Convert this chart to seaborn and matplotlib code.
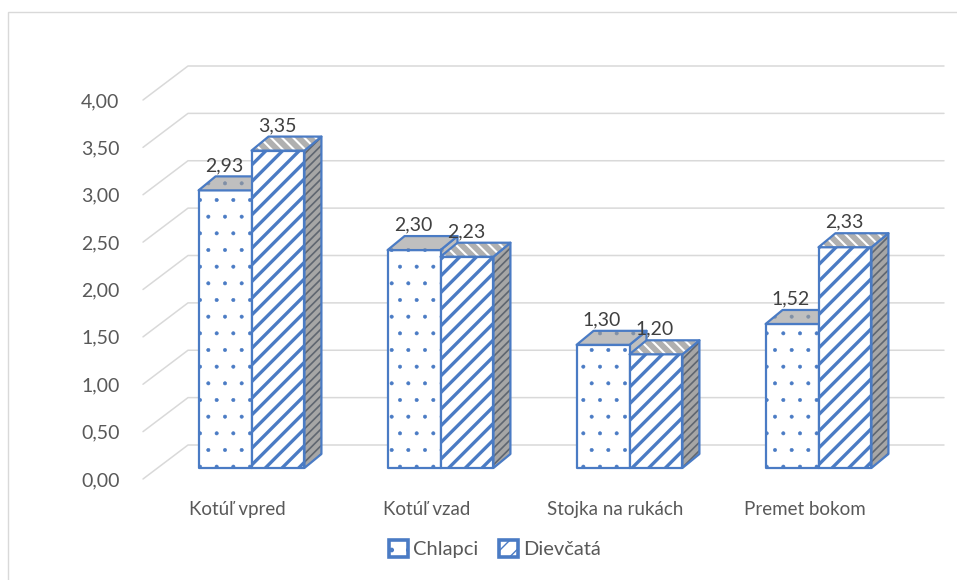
import matplotlib
matplotlib.use("Agg")
import matplotlib.pyplot as plt
import matplotlib.transforms as mtransforms
from matplotlib.patches import Polygon, Rectangle, Patch
import seaborn as sns
import numpy as np
import pandas as pd

# data
categories = ["Kotúľ vpred", "Kotúľ vzad", "Stojka na rukách", "Premet bokom"]
groups = ["Chlapci", "Dievčatá"]
chlapci = [2.93, 2.30, 1.30, 1.52]
dievcata = [3.35, 2.23, 1.20, 2.33]
y_ticks = [0.0, 0.5, 1.0, 1.5, 2.0, 2.5, 3.0, 3.5, 4.0]

df = pd.DataFrame({
    "kategoria": categories * 2,
    "skupina": [groups[0]] * len(chlapci) + [groups[1]] * len(dievcata),
    "hodnota": chlapci + dievcata,
})

sns.set_theme(style="white")
plt.rcParams["font.family"] = ["Lato", "DejaVu Sans"]
plt.rcParams["hatch.linewidth"] = 1.0

BLUE = "#4a7bc4"
TEXT = "#595959"
GRID = "#d9d9d9"
FS = 13.5
FS_NUM = 14

W, H = 957, 580
fig = plt.figure(figsize=(W / 100, H / 100), dpi=100)
ax_l, ax_b, ax_w, ax_h = 143, 101, 756, 379
ax = fig.add_axes([ax_l / W, ax_b / H, ax_w / W, ax_h / H])

sns.barplot(data=df, x="kategoria", y="hodnota", hue="skupina",
            order=categories, hue_order=groups, width=0.56, gap=0,
            errorbar=None, legend=False, palette=["white", "white"], ax=ax)

ax.set_xlim(-0.5, 3.5)
ax.set_ylim(0, 4)
px_x = 4 / ax_w   # data units per pixel
px_y = 4 / ax_h

# fake 3d offsets in pixels (front plane -> bar plane -> bar back -> back wall)
bar_dx, bar_dy = 14, 11
dep_dx, dep_dy = 17 * px_x, 14 * px_y
wall_dx, wall_dy = 45 * px_x, 34 * px_y
bar_tr = mtransforms.offset_copy(ax.transData, fig=fig, x=bar_dx, y=bar_dy, units="dots")

# gridlines: diagonal on the left, horizontal on the back wall
for v in y_ticks:
    ax.plot([-0.5, -0.5 + wall_dx, 3.5 + wall_dx], [v, v + wall_dy, v + wall_dy],
            color=GRID, lw=1.1, zorder=0, clip_on=False)


def face(verts, fc, hatch, hatch_color, hatch_lw, z):
    poly = Polygon(verts, closed=True, facecolor=fc, edgecolor=hatch_color,
                   hatch=hatch, lw=0, transform=bar_tr, zorder=z, clip_on=False)
    if hasattr(poly, "set_hatch_linewidth"):
        poly.set_hatch_linewidth(hatch_lw)
    ax.add_patch(poly)
    ax.add_patch(Polygon(verts, closed=True, fill=False, edgecolor=BLUE, lw=1.6,
                         joinstyle="round", transform=bar_tr, zorder=z + 0.01, clip_on=False))


for p in list(ax.patches):
    x0 = p.get_x()
    w = p.get_width()
    h = p.get_height()
    x1 = x0 + w
    cx = x0 + w / 2
    is_boy = cx < np.round(cx)
    z = 2 if is_boy else 3
    p.remove()
    top = [(x0, h), (x1, h), (x1 + dep_dx, h + dep_dy), (x0 + dep_dx, h + dep_dy)]
    side = [(x1, 0), (x1, h), (x1 + dep_dx, h + dep_dy), (x1 + dep_dx, dep_dy)]
    front = [(x0, 0), (x0, h), (x1, h), (x1, 0)]
    if is_boy:
        face(side, "#bfbfbf", ".", "#8496b0", 0.5, z)
        face(front, "white", ".", BLUE, 0.4, z + 0.1)
        face(top, "#bfbfbf", ".", "#7f8fa6", 0.4, z + 0.2)
    else:
        face(side, "#a6a6a6", "////", "#5f6670", 1.2, z)
        face(front, "white", "//", BLUE, 2.4, z + 0.1)
        face(top, "#b0b0b0", "\\\\\\", "white", 1.5, z + 0.2)
    ax.annotate(f"{h:.2f}".replace(".", ","), xy=(cx, h), xytext=(bar_dx - 1, bar_dy + 25),
                textcoords="offset pixels", ha="center", va="center",
                fontsize=FS_NUM, color="#404040", zorder=10, annotation_clip=False)

sns.despine(ax=ax, left=True, bottom=True)
ax.grid(False)
ax.set_yticks(y_ticks)
ax.set_yticklabels([f"{v:.2f}".replace(".", ",") for v in y_ticks])
ax.set_xticks(range(len(categories)))
ax.set_xticklabels(categories)
ax.tick_params(axis="y", length=0, pad=17, labelsize=FS_NUM, labelcolor=TEXT)
ax.tick_params(axis="x", length=0, pad=16, labelsize=FS, labelcolor=TEXT)
ax.set_xlabel("")
ax.set_ylabel("")
ax.patch.set_alpha(0)

handles = [Patch(facecolor="white", edgecolor=BLUE, hatch=".", lw=2.6),
           Patch(facecolor="white", edgecolor=BLUE, hatch="//", lw=2.6)]
fig.legend(handles, groups, loc="center", bbox_to_anchor=(495 / W, 1 - 549 / H),
           ncol=2, frameon=False, fontsize=14.5, labelcolor=TEXT,
           handlelength=0.95, handleheight=0.95, handletextpad=0.25, columnspacing=1.0)

# chart area border (only top and left edges visible in the reference)
fig.add_artist(Rectangle((8 / W, -0.1), 1.5, 1 - 12 / H + 0.1, transform=fig.transFigure,
                         fill=False, edgecolor=GRID, lw=1.0))

fig.savefig("out.png", dpi=100)
